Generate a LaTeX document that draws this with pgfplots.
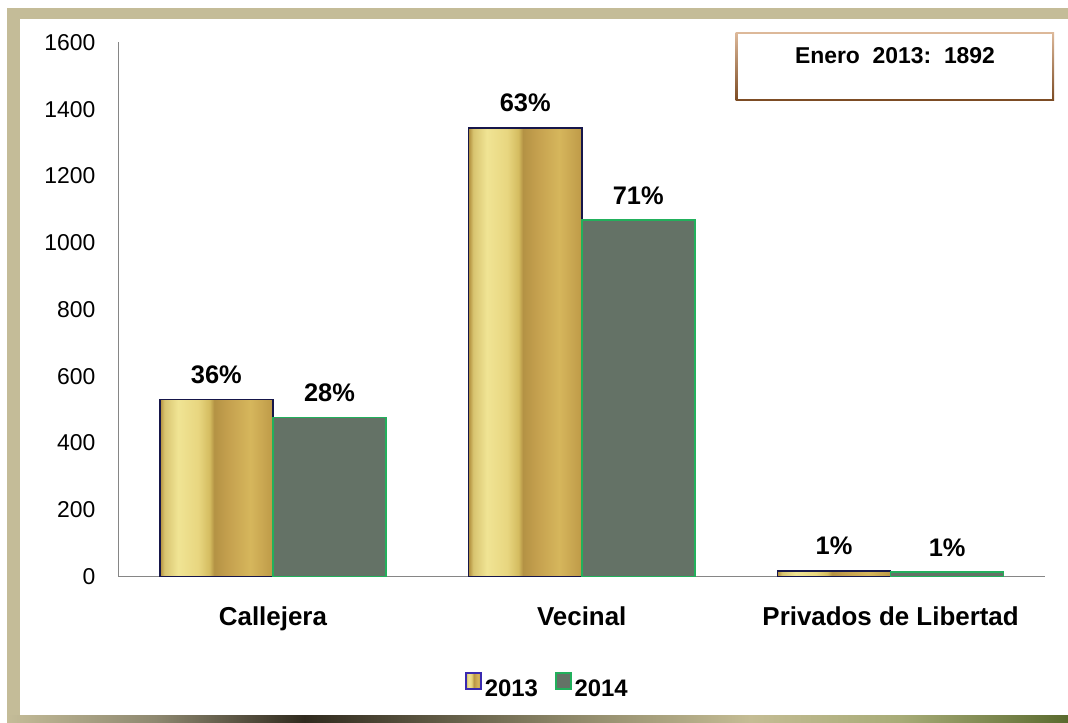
\documentclass[border=0pt]{standalone}
\usepackage{pgfplots}
\pgfplotsset{compat=1.18}
\usepackage{fontspec}
\setmainfont{Liberation Sans}

\definecolor{frametan}{HTML}{C4BC98}
\definecolor{axisgray}{HTML}{868686}
\definecolor{edge13}{HTML}{16164A}
\definecolor{leg13}{HTML}{3A2AB0}
\definecolor{bar14}{HTML}{647266}
\definecolor{edge14}{HTML}{22B05C}
\definecolor{boxtop}{HTML}{DDB99A}
\definecolor{boxbot}{HTML}{7B4A22}
% gold bar colours
\definecolor{gA}{HTML}{B08E3C}
\definecolor{gB}{HTML}{D8C470}
\definecolor{gC}{HTML}{F0E494}
\definecolor{gD}{HTML}{E8D680}
\definecolor{gE}{HTML}{D4BC60}
\definecolor{gF}{HTML}{B49244}
\definecolor{gG}{HTML}{C4A04E}
\definecolor{gH}{HTML}{D6B65C}
\definecolor{gI}{HTML}{BE9A48}
% bottom strip colours
\definecolor{sA}{HTML}{C4BC98}
\definecolor{sB}{HTML}{8E8870}
\definecolor{sC}{HTML}{302A1E}
\definecolor{sD}{HTML}{8A8466}
\definecolor{sE}{HTML}{C4BC94}
\definecolor{sF}{HTML}{A8AC78}
\definecolor{sG}{HTML}{5A6A2E}

\pgfdeclarehorizontalshading{goldbar}{100bp}{color(0bp)=(gA); color(25bp)=(gA);
  color(27bp)=(gB); color(33bp)=(gC); color(42bp)=(gD); color(47bp)=(gE);
  color(49bp)=(gF); color(55bp)=(gG); color(65bp)=(gH); color(75bp)=(gI); color(100bp)=(gI)}
\pgfdeclarehorizontalshading{strip}{100bp}{color(0bp)=(sA); color(25bp)=(sA);
  color(32bp)=(sB); color(39bp)=(sC); color(51bp)=(sD); color(60bp)=(sE);
  color(67bp)=(sF); color(75bp)=(sG); color(100bp)=(sG)}

\pgfplotsset{
  bar13/.style={ybar, bar width=0.366, bar shift=0, draw=edge13, line width=1.5bp,
    shade, shading=goldbar, forget plot, nodes near coords, point meta=explicit symbolic},
}

\begin{document}
\begin{tikzpicture}
\path[use as bounding box, fill=white] (0bp,0bp) rectangle (1068bp,723bp);
% frame
\fill[frametan] (7bp,704bp) rectangle (1068bp,715bp);
\fill[frametan] (7bp,0bp) rectangle (20bp,715bp);
\shade[shading=strip] (7bp,0bp) rectangle (1068bp,7bp);

\begin{axis}[
  at={(118.5bp,146.5bp)}, anchor=south west,
  scale only axis, width=926.5bp, height=534bp,
  xmin=-0.5, xmax=2.5, ymin=0, ymax=1600,
  axis lines*=left,
  axis line style={axisgray, line width=1.5bp, -},
  major tick length=0pt,
  xtick={0,1,2},
  xticklabels={Callejera,Vecinal,Privados de Libertad},
  ytick={0,200,...,1600},
  /pgf/number format/assume math mode=true,
  /pgf/number format/1000 sep={},
  yticklabel style={font=\fontsize{23}{27}\selectfont, anchor=east, inner sep=0pt, xshift=-23bp},
  xticklabel style={font=\bfseries\fontsize{26}{30}\selectfont, anchor=north, inner sep=0pt, yshift=-30bp},
  clip=false,
  legend style={at={(0.4636,-0.2032)}, anchor=center, draw=none, fill=none,
    legend columns=-1, font=\bfseries\fontsize{24}{28}\selectfont,
    nodes={inner xsep=3bp, inner ysep=0pt},
    /tikz/every even column/.append style={column sep=14bp}},
  legend image code/.code={\draw[#1] (0bp,0bp) rectangle (15bp,16bp);},
  every node near coord/.append style={font=\bfseries\fontsize{25.5}{29}\selectfont,
    text=black, inner sep=0pt, anchor=south, yshift=15bp},
]
\addlegendimage{draw=leg13, line width=1.5bp, shade, shading=goldbar}
\addlegendentry{2013}
\addlegendimage{draw=edge14, line width=1.5bp, fill=bar14}
\addlegendentry{2014}

% 2013 (one plot per bar so each bar gets its own shading)
\addplot[bar13] coordinates {(-0.183,531) [36\%]};
\addplot[bar13] coordinates {(0.817,1344) [63\%]};
\addplot[bar13] coordinates {(1.817,17) [1\%]};
% 2014
\addplot[ybar, bar width=0.366, bar shift=0, draw=edge14, line width=1.5bp,
  fill=bar14, forget plot,
  nodes near coords, point meta=explicit symbolic]
  coordinates {(0.183,476) [28\%] (1.183,1068) [71\%] (2.183,13) [1\%]};
\end{axis}

% text box
\shade[top color=boxtop, bottom color=boxbot] (735.7bp,622bp) rectangle (1054bp,690.7bp);
\fill[white] (737.7bp,624bp) rectangle (1052bp,688.7bp);
\node[font=\bfseries\fontsize{23}{27}\selectfont, inner sep=0pt] at (895bp,667.5bp) {Enero~~2013:~~1892};
\end{tikzpicture}
\end{document}
